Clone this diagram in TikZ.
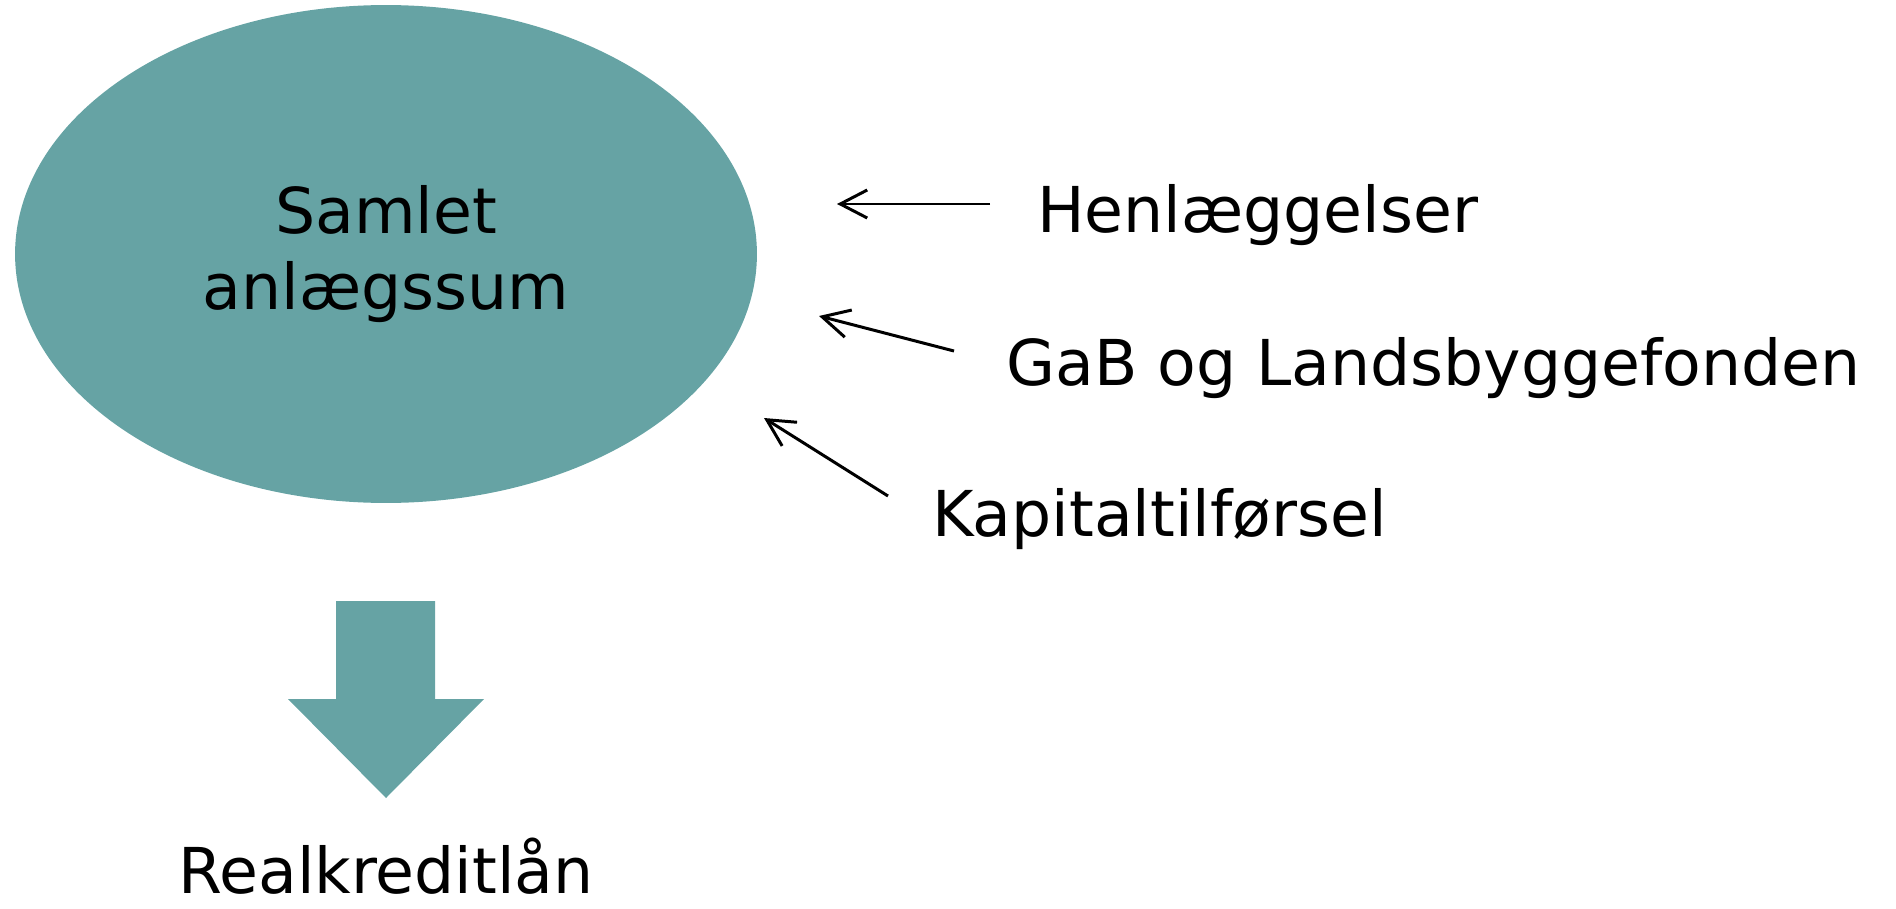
\documentclass[tikz,border=0pt]{standalone}
\usepackage{fontspec}
\setmainfont{DejaVu Sans}
\usepackage{xcolor}
\definecolor{PlanTeal}{RGB}{102, 163, 164}
\usetikzlibrary{arrows.meta, positioning, shapes.geometric}

\begin{document}
\begin{tikzpicture}[
    x=0.02cm, y=-0.02cm,
    font=\fontsize{36}{43.2}\selectfont,
    >={Straight Barb[length=0.54cm, width=0.56cm, line width=1.7pt]},
    sumblob/.style = {
        ellipse, fill=PlanTeal, draw=none,
        minimum width=14.84cm, minimum height=9.96cm,
        align=center, inner sep=0pt
    },
    source/.style = {anchor=base west, inner sep=0pt},
    result/.style = {anchor=base, inner sep=0pt, text depth=0pt},
    inflow/.style = {->, line width=1.7pt, black},
    blockarrow/.style = {fill=PlanTeal, draw=none}
]
\useasboundingbox (0,0) rectangle (1896,909);

% ===== TOTAL SUM =====
\node[sumblob] (sum) at (386,254) {Samlet\\anlægssum};

% ===== SOURCES =====
\node[source] (henl) at (1037,232) {Henlæggelser};
\node[source] (gab)  at (1006,385) {GaB og Landsbyggefonden};
\node[source] (kap)  at (932,536)  {Kapitaltilførsel};

\coordinate (henlout) at (990,204);
\coordinate (henlin)  at (837,204);
\coordinate (gabout)  at (954,351);
\coordinate (gabin)   at (819,316);
\coordinate (kapout)  at (888,496);
\coordinate (kapin)   at (764,418);

% ===== RESULT =====
\node[result] (loan) at (386,893) {Realkreditlån};

% ===== ARROWS =====
\draw[inflow] (henlout) -- (henlin);
\draw[inflow] (gabout)  -- (gabin);
\draw[inflow] (kapout)  -- (kapin);
\fill[blockarrow] (336,601) -- (435,601) -- (435,699) -- (484,699)
    -- (386,798) -- (288,699) -- (336,699) -- cycle;
\end{tikzpicture}
\end{document}
